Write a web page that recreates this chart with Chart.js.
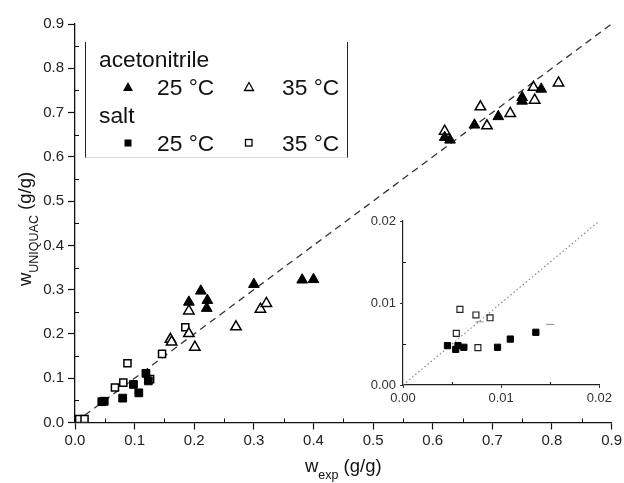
<!DOCTYPE html>
<html><head><meta charset="utf-8">
<script src="https://cdn.jsdelivr.net/npm/chart.js@4/dist/chart.umd.min.js"></script>
<style>
body{margin:0;background:#fff;}
#wrap{position:relative;width:624px;height:483px;font-family:"Liberation Sans",Arial,sans-serif;overflow:hidden;}
#main{position:absolute;left:0;top:0;}
#inset{position:absolute;left:360px;top:205px;}
#legend{position:absolute;left:85px;top:42px;width:263px;height:116px;border-left:1.5px solid #222;border-right:1.5px solid #222;border-bottom:1px solid #ddd;box-sizing:border-box;}
.lt{position:absolute;font-size:22.8px;line-height:22px;color:#111;white-space:nowrap;}
.mk{position:absolute;}
</style></head>
<body>
<div id="wrap">
<canvas id="main" width="624" height="483"></canvas>
<canvas id="inset" width="255" height="210"></canvas>
<div id="legend">
  <div class="lt" style="left:13px;top:5.5px;">acetonitrile</div>
  <svg class="mk" style="left:36px;top:39px;" width="12" height="11"><polygon points="6,1 11,10 1,10" fill="#000"/></svg>
  <div class="lt" style="left:71px;top:33.5px;">25 °C</div>
  <svg class="mk" style="left:157px;top:39px;" width="12" height="11"><polygon points="6,1.5 10.5,9.5 1.5,9.5" fill="#fff" stroke="#000" stroke-width="1.3"/></svg>
  <div class="lt" style="left:196px;top:33.5px;">35 °C</div>
  <div class="lt" style="left:13px;top:61.5px;">salt</div>
  <svg class="mk" style="left:37px;top:96px;" width="10" height="10"><rect x="1.5" y="1.5" width="7" height="7" fill="#000"/></svg>
  <div class="lt" style="left:71px;top:89.5px;">25 °C</div>
  <svg class="mk" style="left:158px;top:96px;" width="10" height="10"><rect x="1.5" y="1.5" width="6.5" height="6.5" fill="#fff" stroke="#000" stroke-width="1.3"/></svg>
  <div class="lt" style="left:196px;top:89.5px;">35 °C</div>
</div>
</div>
<script>
// ---- main chart data (w_exp, w_UNIQUAC in g/g) ----
const acn25X = [0.191, 0.211, 0.222, 0.221, 0.300, 0.381, 0.400, 0.620, 0.629, 0.670, 0.710, 0.750, 0.750, 0.782];
const acn25Y = [0.272, 0.297, 0.276, 0.258, 0.312, 0.322, 0.323, 0.644, 0.638, 0.672, 0.691, 0.726, 0.734, 0.753];
const acn35X = [0.191, 0.191, 0.160, 0.162, 0.201, 0.270, 0.311, 0.321, 0.620, 0.680, 0.691, 0.730, 0.769, 0.771, 0.811];
const acn35Y = [0.252, 0.201, 0.188, 0.182, 0.170, 0.216, 0.256, 0.269, 0.658, 0.713, 0.670, 0.698, 0.757, 0.728, 0.767];
const salt25X = [0.119, 0.123, 0.098, 0.107, 0.080, 0.045, 0.049];
const salt25Y = [0.111, 0.094, 0.086, 0.067, 0.055, 0.047, 0.048];
const salt35X = [0.185, 0.146, 0.088, 0.126, 0.081, 0.067, 0.007, 0.016];
const salt35Y = [0.215, 0.155, 0.134, 0.098, 0.090, 0.079, 0.008, 0.008];
const parityX = [0, 0.9];
const parityY = [0, 0.9];
const mainTicks = [0, 0.1, 0.2, 0.3, 0.4, 0.5, 0.6, 0.7, 0.8, 0.9];

// ---- inset data ----
const insSalt25X = [0.00453, 0.00537, 0.00560, 0.00620, 0.00963, 0.01093, 0.01353];
const insSalt25Y = [0.00480, 0.00435, 0.00480, 0.00460, 0.00460, 0.00560, 0.00643];
const insSalt35X = [0.00580, 0.00743, 0.00887, 0.00543, 0.00763];
const insSalt35Y = [0.00923, 0.00854, 0.00820, 0.00630, 0.00455];
const insDashX = [0.0078, 0.0150];
const insDashY = [0.0077, 0.0074];
const insParityX = [0, 0.02];
const insParityY = [0, 0.02];
const insetTicks = [0, 0.01, 0.02];

const zip = (xs, ys) => xs.map((x, i) => ({x: x, y: ys[i]}));
const FONT = '"Liberation Sans", Arial, sans-serif';

const minorTicks = (step, len) => ({
  id: 'minorTicks' + step,
  afterDraw(chart) {
    const {ctx, scales: {x, y}} = chart;
    ctx.save();
    ctx.strokeStyle = '#111';
    ctx.lineWidth = 1;
    ctx.beginPath();
    for (let v = step / 2; v < x.max; v += step) {
      const px = Math.round(x.getPixelForValue(v)) + 0.5;
      ctx.moveTo(px, y.bottom); ctx.lineTo(px, y.bottom - len);
    }
    for (let v = step / 2; v < y.max; v += step) {
      const py = Math.round(y.getPixelForValue(v)) + 0.5;
      ctx.moveTo(x.left, py); ctx.lineTo(x.left + len, py);
    }
    ctx.stroke();
    ctx.restore();
  }
});

const axisTitles = {
  id: 'axisTitles',
  afterDraw(chart) {
    const {ctx, chartArea: a} = chart;
    const big = '18.5px ' + FONT, small = '12.5px ' + FONT;
    ctx.save();
    ctx.fillStyle = '#111';
    ctx.textBaseline = 'alphabetic';
    ctx.textAlign = 'left';
    const drawTitle = (main, sub, rest, cx, base) => {
      ctx.font = big; const w1 = ctx.measureText(main).width;
      ctx.font = small; const w2 = ctx.measureText(sub).width;
      ctx.font = big; const w3 = ctx.measureText(rest).width;
      let s = cx - (w1 + w2 + w3) / 2;
      ctx.font = big; ctx.fillText(main, s, base);
      ctx.font = small; ctx.fillText(sub, s + w1, base + 7);
      ctx.font = big; ctx.fillText(rest, s + w1 + w2, base);
    };
    drawTitle('w', 'exp', ' (g/g)', (a.left + a.right) / 2, 472);
    ctx.translate(31, 229);
    ctx.rotate(-Math.PI / 2);
    drawTitle('w', 'UNIQUAC', ' (g/g)', 0, 0);
    ctx.restore();
  }
};

new Chart(document.getElementById('main'), {
  type: 'scatter',
  data: {
    datasets: [
      {label: 'acetonitrile 25 °C', data: zip(acn25X, acn25Y), pointStyle: 'triangle', pointRadius: 6.2,
       backgroundColor: '#000', borderColor: '#000', borderWidth: 1},
      {label: 'acetonitrile 35 °C', data: zip(acn35X, acn35Y), pointStyle: 'triangle', pointRadius: 6,
       backgroundColor: '#fff', borderColor: '#000', borderWidth: 1.5},
      {label: 'salt 25 °C', data: zip(salt25X, salt25Y), pointStyle: 'rect', pointRadius: 5.5,
       backgroundColor: '#000', borderColor: '#000', borderWidth: 1},
      {label: 'salt 35 °C', data: zip(salt35X, salt35Y), pointStyle: 'rect', pointRadius: 5,
       backgroundColor: '#fff', borderColor: '#000', borderWidth: 1.5},
      {label: 'y = x', type: 'line', data: zip(parityX, parityY), borderColor: '#333', borderWidth: 1.3,
       borderDash: [7, 5], pointRadius: 0, fill: false}
    ]
  },
  options: {
    responsive: false, animation: false, devicePixelRatio: 1,
    layout: {padding: {top: 24, right: 12, left: 0, bottom: 0}},
    plugins: {legend: {display: false}, tooltip: {enabled: false}},
    scales: {
      x: {type: 'linear', min: 0, max: 0.9,
          afterBuildTicks: s => { s.ticks = mainTicks.map(v => ({value: v})); },
          ticks: {callback: v => v.toFixed(1), font: {size: 15, family: FONT}, color: '#222', padding: 2, maxRotation: 0, autoSkip: false},
          grid: {drawOnChartArea: false, tickLength: 7, color: '#111', tickWidth: 1.2},
          border: {color: '#111', width: 1.3},
          afterFit: s => { s.height = 60.5; }},
      y: {type: 'linear', min: 0, max: 0.9,
          afterBuildTicks: s => { s.ticks = mainTicks.map(v => ({value: v})); },
          ticks: {callback: v => v.toFixed(1), font: {size: 15, family: FONT}, color: '#222', padding: 4, autoSkip: false},
          grid: {drawOnChartArea: false, tickLength: 7, color: '#111', tickWidth: 1.2},
          border: {color: '#111', width: 1.3},
          afterFit: s => { s.width = 75; }}
    }
  },
  plugins: [minorTicks(0.1, 4), axisTitles]
});

new Chart(document.getElementById('inset'), {
  type: 'scatter',
  data: {
    datasets: [
      {label: 'salt 25 °C', data: zip(insSalt25X, insSalt25Y), pointStyle: 'rect', pointRadius: 4.4,
       backgroundColor: '#000', borderColor: '#000', borderWidth: 1},
      {label: 'salt 35 °C', data: zip(insSalt35X, insSalt35Y), pointStyle: 'rect', pointRadius: 4.2,
       backgroundColor: '#fff', borderColor: '#222', borderWidth: 1.2},
      {label: 'marks', data: zip(insDashX, insDashY), pointStyle: 'line', pointRadius: 4,
       borderColor: '#888', borderWidth: 1},
      {label: 'y = x', type: 'line', data: zip(insParityX, insParityY), borderColor: '#888', borderWidth: 1.2,
       borderDash: [1.5, 2.5], pointRadius: 0, fill: false}
    ]
  },
  options: {
    responsive: false, animation: false, devicePixelRatio: 1,
    layout: {padding: {top: 16, right: 12, left: 0, bottom: 0}},
    plugins: {legend: {display: false}, tooltip: {enabled: false}},
    scales: {
      x: {type: 'linear', min: 0, max: 0.02,
          afterBuildTicks: s => { s.ticks = insetTicks.map(v => ({value: v})); },
          ticks: {callback: v => v.toFixed(2), font: {size: 13, family: FONT}, color: '#333', padding: 3, maxRotation: 0, autoSkip: false},
          grid: {drawOnChartArea: false, tickLength: 3, color: '#333'},
          border: {color: '#222', width: 1.2},
          afterFit: s => { s.height = 30; }},
      y: {type: 'linear', min: 0, max: 0.02,
          afterBuildTicks: s => { s.ticks = insetTicks.map(v => ({value: v})); },
          ticks: {callback: v => v.toFixed(2), font: {size: 13, family: FONT}, color: '#333', padding: 4, autoSkip: false},
          grid: {drawOnChartArea: false, tickLength: 3, color: '#333'},
          border: {color: '#222', width: 1.2},
          afterFit: s => { s.width = 43; }}
    }
  },
  plugins: [minorTicks(0.01, 3)]
});
</script>
</body></html>
